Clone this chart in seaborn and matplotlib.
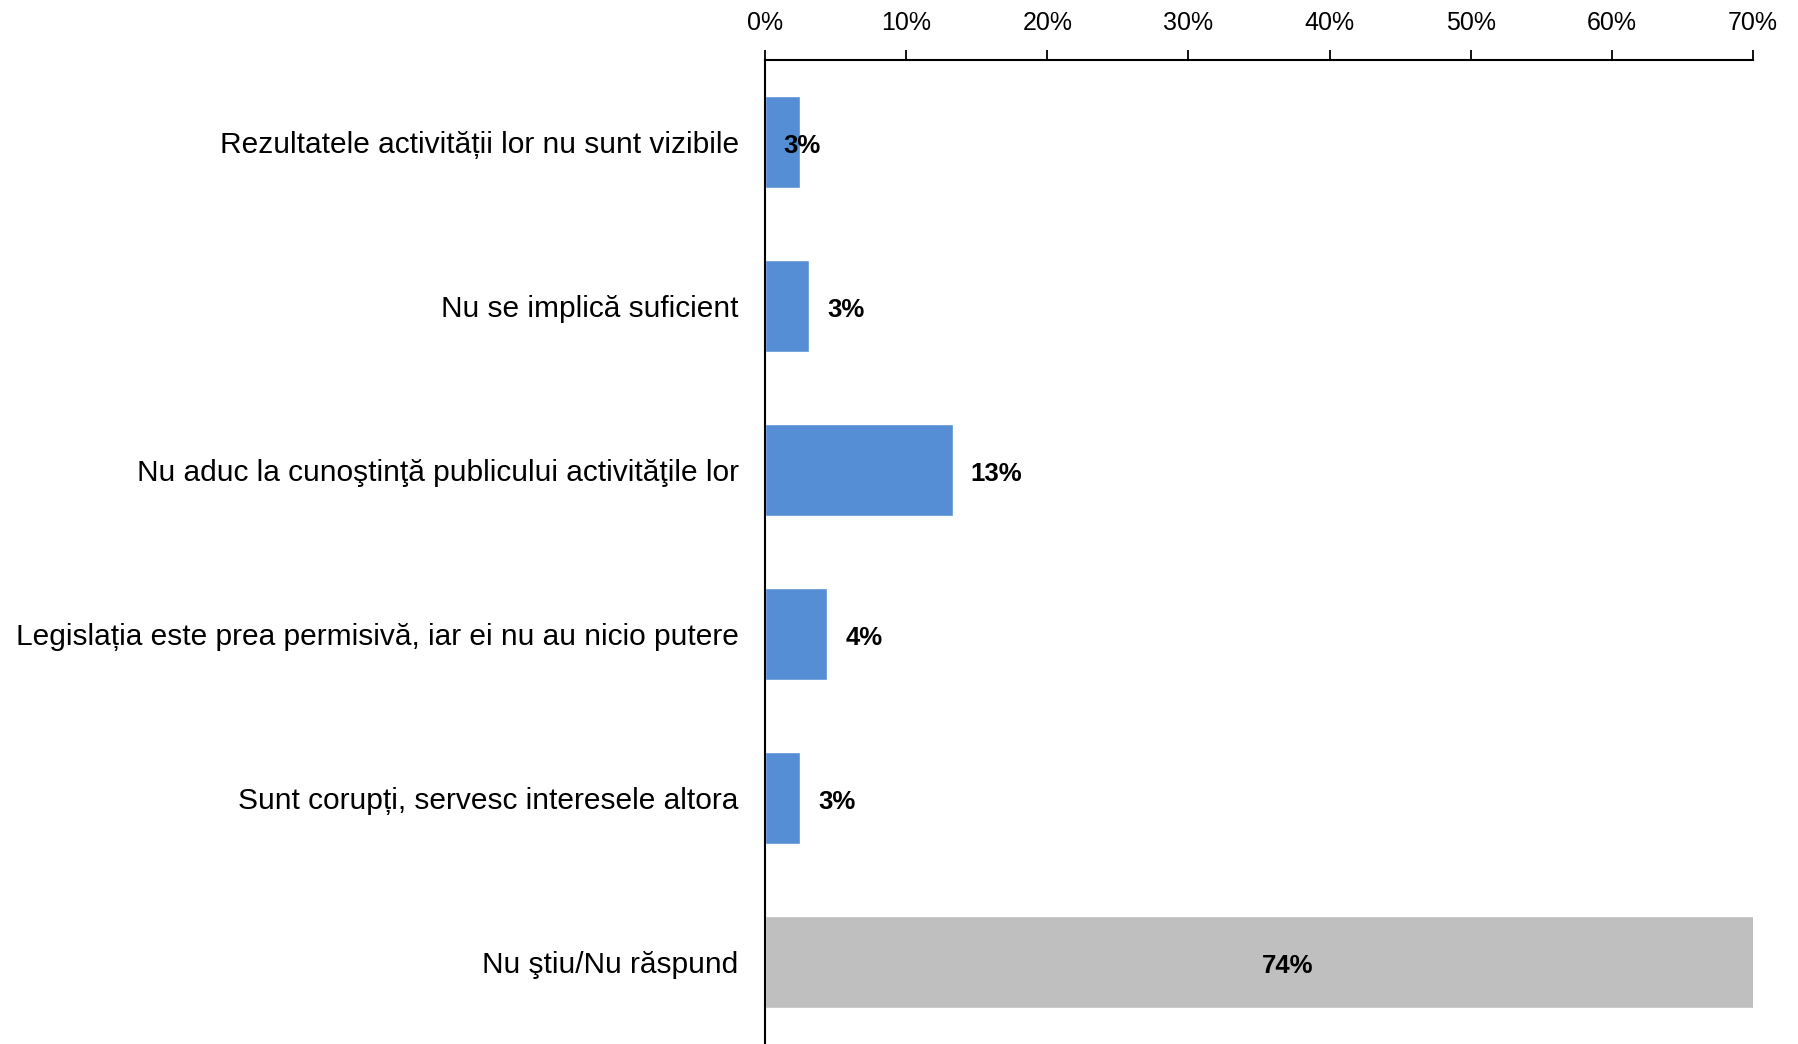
import matplotlib
matplotlib.use("Agg")
import matplotlib.pyplot as plt
import seaborn as sns
import pandas as pd
from matplotlib.ticker import FuncFormatter

categorii = [
    "Rezultatele activității lor nu sunt vizibile",
    "Nu se implică suficient",
    "Nu aduc la cunoştinţă publicului activităţile lor",
    "Legislația este prea permisivă, iar ei nu au nicio putere",
    "Sunt corupți, servesc interesele altora",
    "Nu ştiu/Nu răspund",
]
valori = [2.5, 3.1, 13.3, 4.4, 2.5, 74.0]
etichete = ["3%", "3%", "13%", "4%", "3%", "74%"]
culori = ["#558ED5", "#558ED5", "#558ED5", "#558ED5", "#558ED5", "#BFBFBF"]

df = pd.DataFrame({"categorie": categorii, "valoare": valori})

sns.set_style("white")
plt.rcParams["font.family"] = ["Liberation Sans", "DejaVu Sans"]
plt.rcParams["text.color"] = "black"
plt.rcParams["xtick.color"] = "black"
plt.rcParams["ytick.color"] = "black"

fig = plt.figure(figsize=(17.99, 10.44), dpi=100)
ax = fig.add_axes([0.4253, 0.0, 0.5491, 0.9425])

sns.barplot(data=df, y="categorie", x="valoare", hue="categorie", palette=culori,
            legend=False, width=0.56, orient="h", ax=ax, saturation=1)

ax.set_xlim(0, 70)
ax.set_ylim(5.5, -0.5)
ax.set_xticks(range(0, 71, 10))
ax.xaxis.set_major_formatter(FuncFormatter(lambda v, p: f"{v:.0f}%"))
ax.xaxis.tick_top()
ax.tick_params(axis="x", which="major", direction="out", length=7, width=1.3,
               labelsize=18, pad=11, color="black", labelcolor="black")

# etichete categorii pe ticks minore, ticks majore la granite
ax.set_yticks([i + 0.5 for i in range(5)])
ax.set_yticklabels([])
ax.set_yticks(range(len(categorii)), minor=True)
ax.set_yticklabels(categorii, minor=True)
ax.tick_params(axis="y", which="major", direction="out", length=7, width=1.3, color="black")
ax.tick_params(axis="y", which="minor", length=0, labelsize=21.5, pad=19, labelcolor="black")

ax.set_xlabel("")
ax.set_ylabel("")

for s in ["right", "bottom"]:
    ax.spines[s].set_visible(False)
for s in ["top", "left"]:
    ax.spines[s].set_color("black")
    ax.spines[s].set_linewidth(1.5)

# etichete valori
for i, (v, t) in enumerate(zip(valori, etichete)):
    if v > 70:
        ax.annotate(t, (v / 2, i), xytext=(0, -3), textcoords="offset points",
                    ha="center", va="center", fontsize=18.5, fontweight="bold")
    elif i == 0:
        ax.annotate(t, (v + 0.1, i), xytext=(0, -3), textcoords="offset points",
                    ha="center", va="center", fontsize=18.5, fontweight="bold")
    else:
        ax.annotate(t, (v, i), xytext=(13, -3), textcoords="offset points",
                    ha="left", va="center", fontsize=18.5, fontweight="bold")

fig.savefig("out.png", dpi=100)
